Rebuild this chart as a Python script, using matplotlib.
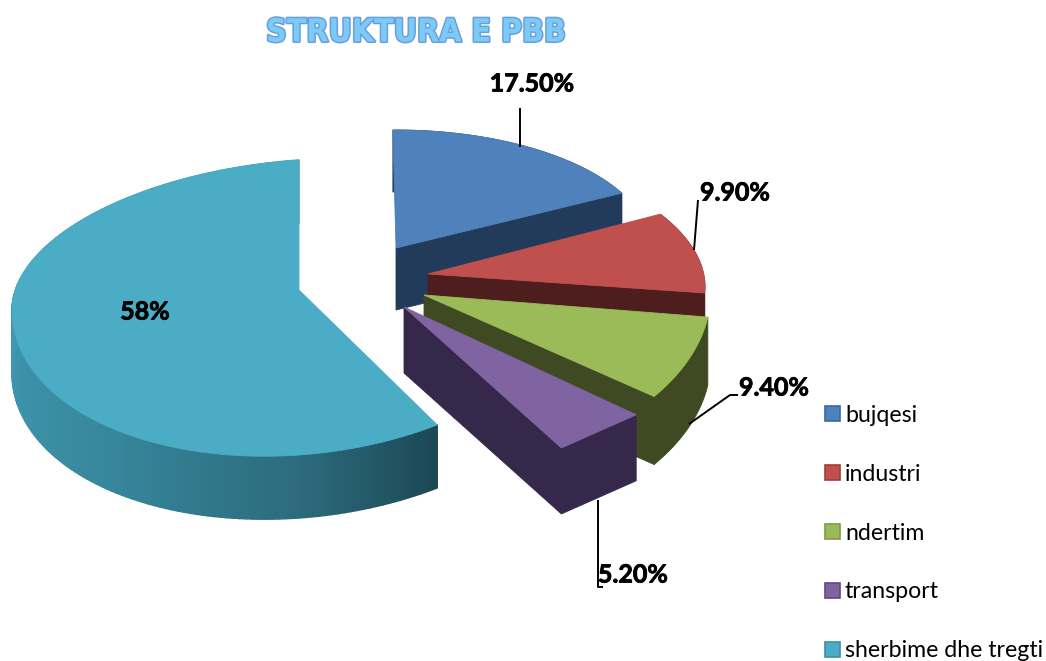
import matplotlib
matplotlib.use("Agg")
import matplotlib.pyplot as plt
import matplotlib.patheffects as pe
from matplotlib.patches import Polygon, Patch
import numpy as np

# Te dhenat
categories = ["bujqesi", "industri", "ndertim", "transport", "sherbime dhe tregti"]
values = [17.5, 9.9, 9.4, 5.2, 58.0]
value_labels = ["17.50%", "9.90%", "9.40%", "5.20%", "58%"]

top_colors = ["#4F81BD", "#C0504D", "#9BBB59", "#8064A2", "#4BACC6"]
side_colors = ["#233B5B", "#4D1E1D", "#3F4A22", "#36284A", "#1C4854"]
edge_colors = ["#3A6A9F", "#9E3F3C", "#7F9A48", "#5F4A80", "#3A8FA6"]

# Gjeometria e feteve: maja, rrezet, zhvendosja e kendit, pjerresia, trashesia
tip_x = [396, 428, 424, 404, 299]
tip_y = [248, 274, 295, 307, 290]
rad_x = [255, 277, 284, 303, 287]
rad_up = [118, 130, 150, 162, 130]
rad_down = [118, 130, 150, 162, 165]
rot = [0.7, 6, 6.6, 2.5, 0]
shear = [0, 0.047, 0.059, 0.016, -0.07]
depth = [62, 62, 68, 66, 63]
flat = [0, 0, 0.3, 1, 0]  # sa e drejte del harku

fig = plt.figure(figsize=(10.46, 6.61), dpi=100)
ax = fig.add_axes([0, 0, 1, 1])
ax.set_xlim(0, 1046)
ax.set_ylim(661, 0)
ax.axis("off")


def rim(i, angles):
    a = np.radians(angles + rot[i])
    ry = np.where(np.sin(a) > 0, rad_up[i], rad_down[i])
    x = tip_x[i] + rad_x[i] * np.cos(a)
    y = tip_y[i] - ry * np.sin(a) + shear[i] * rad_x[i] * np.cos(a)
    # harku afrohet te korda kur flat > 0
    s = np.linspace(0, 1, len(a))
    x = x + flat[i] * (x[0] + (x[-1] - x[0]) * s - x)
    y = y + flat[i] * (y[0] + (y[-1] - y[0]) * s - y)
    return x, y


# Kendet dalin nga vlerat, duke filluar lart dhe ne drejtim te akrepave
shares = np.array(values) / sum(values) * 360
starts = 90 - np.concatenate([[0], np.cumsum(shares)[:-1]])
ends = starts - shares

for i in range(len(values)):
    t = np.linspace(starts[i], ends[i], 160)
    x, y = rim(i, t)
    d = depth[i]

    # faqja e perparme e fetes
    if i != 4:
        ax.add_patch(Polygon([(tip_x[i], tip_y[i]), (x[-1], y[-1]), (x[-1], y[-1] + d),
                              (tip_x[i], tip_y[i] + d)], closed=True,
                             fc=side_colors[i], ec=side_colors[i], lw=0.6))
        ax.add_patch(Polygon(np.column_stack([np.r_[x, x[::-1]], np.r_[y, y[::-1] + d]]),
                             closed=True, fc=side_colors[i], ec=side_colors[i], lw=0.6))
    else:
        # ana e madhe ka gradient
        for j in range(len(t) - 1):
            shade = np.interp(t[j], [-180, -130, -90, -61],
                              [0, 0.22, 0.55, 1.0])
            c0 = np.array(matplotlib.colors.to_rgb("#3F98B0"))
            c1 = np.array(matplotlib.colors.to_rgb(side_colors[4]))
            col = c0 + (c1 - c0) * shade
            ax.add_patch(Polygon([(x[j], y[j]), (x[j + 1], y[j + 1]),
                                  (x[j + 1], y[j + 1] + d), (x[j], y[j] + d)],
                                 closed=True, fc=col, ec=col, lw=1.0))

    # siperfaqja
    ax.add_patch(Polygon(np.column_stack([np.r_[tip_x[i], x], np.r_[tip_y[i], y]]),
                         closed=True, fc=top_colors[i], ec=top_colors[i], lw=0.6))

# Vijat e etiketave
leaders = [([520, 520], [108, 147]),
           ([698, 694], [200, 250]),
           ([738, 730, 689], [395, 395, 424]),
           ([603, 598, 598], [587, 587, 500])]
for lx, ly in leaders:
    ax.plot(lx, ly, color="black", lw=1.4, solid_capstyle="butt")

label_pos = [(532, 84), (735, 193), (774, 388), (633, 575), (145, 312)]
for lab, (px, py) in zip(value_labels, label_pos):
    ax.text(px, py, lab, ha="center", va="center", fontsize=18, fontweight="bold",
            family="Lato", color="black",
            path_effects=[pe.withStroke(linewidth=0.6, foreground="black")])

# Titulli
ax.text(416, 33, "STRUKTURA E PBB", ha="center", va="center", fontsize=23,
        fontweight="bold", fontstretch="condensed", family="DejaVu Sans", color="#7CCBF7",
        path_effects=[pe.withStroke(linewidth=2.2, foreground="#6A9FDC")])

# Legjenda
handles = [Patch(fc=c, ec=e, lw=1.2) for c, e in zip(top_colors, edge_colors)]
ax.legend(handles, categories, loc="upper left", bbox_to_anchor=(825, 405),
          bbox_transform=ax.transData, frameon=False, borderpad=0, borderaxespad=0,
          handlelength=0.64, handleheight=0.62, handletextpad=0.22, labelspacing=1.63,
          prop={"family": "Lato", "size": 16.7})

fig.savefig("out.png", dpi=100)
